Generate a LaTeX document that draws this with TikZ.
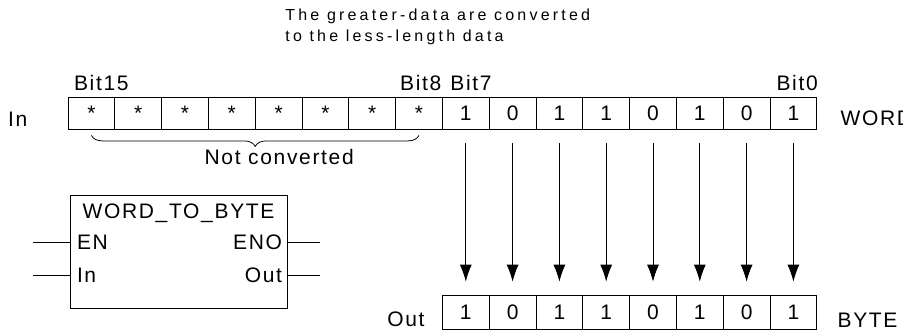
\documentclass[tikz,border=0pt]{standalone}
\usepackage{fontspec}
\setmainfont{Liberation Sans}
\newfontfamily\tagfont[LetterSpace=8]{Liberation Sans}
\newfontfamily\headfont[LetterSpace=20]{Liberation Sans}
\usepackage{tikz}
\usetikzlibrary{calc}
\usetikzlibrary{arrows.meta}
\usetikzlibrary{decorations.pathreplacing}

\begin{document}
\begin{tikzpicture}[x=1pt, y=-1pt, line width=0.8pt, >={Latex[length=17pt,width=12pt]},
    cell/.style={
            draw,
            rectangle,
            minimum height=32pt,
            minimum width=46.8pt,
            inner sep=0pt,
            font=\tagfont\fontsize{21}{25}\selectfont
        },
        tag/.style={
            inner sep=0pt,
            font=\tagfont\fontsize{21}{25}\selectfont
        },
        fblock/.style={
            draw,
            rectangle,
            minimum height=113pt,
            minimum width=217pt
        }
]
    \useasboundingbox (0,0) rectangle (903,333);

    % title
    \node [inner sep=0pt, anchor=north west, align=left,
           font=\headfont\fontsize{16}{21}\selectfont] (title) at (285,9)
          {The greater-data are converted\\to the less-length data};

    % WORD input
    \foreach \v [count=\i from 0] in {*,*,*,*,*,*,*,*,1,0,1,1,0,1,0,1} {
        \pgfmathtruncatemacro\b{15-\i}
        \node [cell] (w\b) at (91.4+46.8*\i,113) {\v};
    }
    \node [tag, anchor=base east] (in) at ([xshift=-40pt,yshift=-13pt]w15.west) {In};
    \node [tag, anchor=base west] (word) at ([xshift=23pt,yshift=-12pt]w0.east) {WORD};
    \node [tag, anchor=base west] (bit15) at ([xshift=6pt,yshift=6pt]w15.north west) {Bit15};
    \node [tag, anchor=base east] (bit8) at ([xshift=-1pt,yshift=6pt]w8.north east) {Bit8};
    \node [tag, anchor=base west] (bit7) at ([xshift=8pt,yshift=6pt]w7.north west) {Bit7};
    \node [tag, anchor=base east] (bit0) at ([xshift=1pt,yshift=6pt]w0.north east) {Bit0};

    \draw [decorate, decoration={brace, mirror, amplitude=11pt}]
        ([yshift=-6pt]w15.south) -- ([yshift=-6pt]w8.south);
    \node [tag] (nc) at ($(w15.south)!0.5!(w8.south)+(24,28)$) {Not converted};

    % BYTE output
    \foreach \v [count=\i from 0] in {1,0,1,1,0,1,0,1} {
        \pgfmathtruncatemacro\b{7-\i}
        \node [cell, minimum height=34pt] (o\b) at (w\b |- 0,312) {\v};
        \draw [->] ([yshift=-14pt]w\b.south) -- ([yshift=13pt]o\b.north);
    }
    \node [tag, anchor=base east] (out) at ([xshift=-17pt,yshift=-14pt]o7.west) {Out};
    \node [tag, anchor=base west] (byte) at ([xshift=20pt,yshift=-15pt]o0.east) {BYTE};

    % function block
    \node [fblock] (fb) at (178.5,251.5) {};
    \node [tag, anchor=base] (fbname) at ([yshift=-24pt]fb.north) {WORD\_TO\_BYTE};
    \node [tag, anchor=west] (en) at ([xshift=7pt,yshift=9.5pt]fb.west) {EN};
    \node [tag, anchor=west] (fbin) at ([xshift=7pt,yshift=-23.5pt]fb.west) {In};
    \node [tag, anchor=east] (eno) at ([xshift=-5pt]fb.east |- en) {ENO};
    \node [tag, anchor=east] (fbout) at ([xshift=-5pt]fb.east |- fbin) {Out};
    \coordinate (enpin) at ([xshift=-37pt]fb.west |- en);
    \coordinate (inpin) at ([xshift=-37pt]fb.west |- fbin);
    \coordinate (enopin) at ([xshift=33pt]fb.east |- eno);
    \coordinate (outpin) at ([xshift=33pt]fb.east |- fbout);
    \draw (enpin) -- (fb.west |- en);
    \draw (inpin) -- (fb.west |- fbin);
    \draw (fb.east |- eno) -- (enopin);
    \draw (fb.east |- fbout) -- (outpin);
\end{tikzpicture}
\end{document}
